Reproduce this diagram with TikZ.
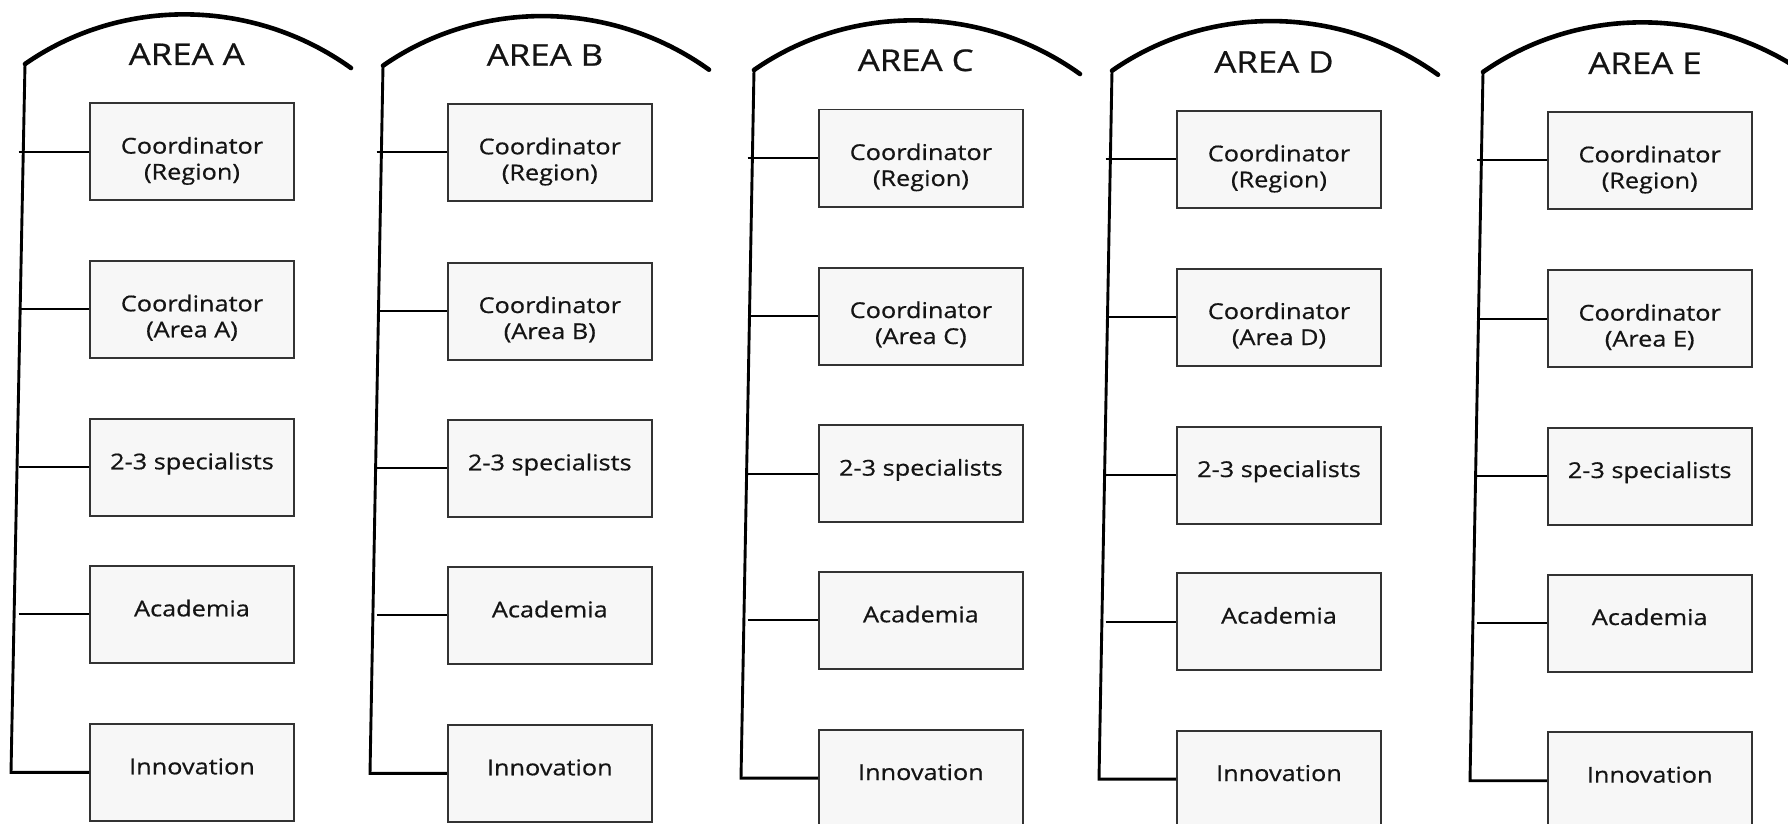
\documentclass[tikz,border=0pt]{standalone}
\usepackage{fontspec}
\setmainfont{Open Sans}[FakeStretch=1.16,FakeBold=0.6]
\definecolor{boxline}{HTML}{333333}
\definecolor{boxfill}{HTML}{F7F7F7}
\definecolor{txt}{HTML}{141414}
\newcommand\bxt[1]{\parbox[c][48.5pt][t]{102pt}{\centering\fontsize{10.9}{13}\selectfont\rule{0pt}{25.2pt}#1}}
\begin{document}
\begin{tikzpicture}[x=0.5pt,y=-0.5pt,
  box/.style={draw=boxline, line width=0.9pt, fill=boxfill, inner sep=0pt, anchor=north, text=txt},
  arcline/.style={line width=2.3pt, draw=black, line cap=round},
  spine/.style={line width=1.45pt, draw=black, line join=miter},
  conn/.style={line width=1.05pt, draw=black},
  areatitle/.style={anchor=base, inner sep=0pt, text=txt, font=\fontsize{15}{17}\selectfont}]
\clip (0,0) rectangle (1788,824);
\fill[white] (0,0) rectangle (1788,824);
\foreach \cl/\bx/\vtx/\vty/\vbx/\ya/\yb/\yc/\yd/\ye/\ttx/\tty in {
 A/192/25/64/11/102.3/260/418/565/723/186.7/65,
 B/549.8/383/65.7/370/103/261.7/419/566/724/545/65.7,
 C/920.9/754/70/741/108.7/266.7/424.3/571/728.7/915.7/71,
 D/1279/1112/70.7/1099/110/267.7/425.7/572.3/729.7/1274/72.7,
 E/1649.7/1483/72/1470/111/269.3/426.7/573.7/731.3/1645/74}
{
  \node[areatitle] (\cl title) at (\ttx,\tty) {AREA \cl};
  \node[box] (\cl1) at (\bx,\ya) {\bxt{Coordinator\\(Region)}};
  \node[box] (\cl2) at (\bx,\yb) {\bxt{Coordinator\\(Area \cl)}};
  \node[box] (\cl3) at (\bx,\yc) {\bxt{2-3 specialists}};
  \node[box] (\cl4) at (\bx,\yd) {\bxt{Academia}};
  \node[box] (\cl5) at (\bx,\ye) {\bxt{Innovation}};
  \coordinate (\cl top) at (\vtx,\vty);
  \coordinate (\cl end) at (\vtx+326,\vty+4);
  \coordinate (\cl left) at (\vtx-6.5,\vty);
  \coordinate (\cl botx) at (\vbx,0);
  \coordinate (\cl bot) at (\cl5.west -| \cl botx);
  \draw[arcline] (\cl top) .. controls (\vtx+97.2,\vty-67.8) and (\vtx+228.8,\vty-65.8) .. (\cl end);
  \draw[spine] (\cl top) -- (\cl bot) -- (\cl5.west);
  \foreach \i in {1,...,4} {
    \draw[conn] (\cl\i.west -| \cl left) -- (\cl\i.west);
  }
}
\end{tikzpicture}
\end{document}
